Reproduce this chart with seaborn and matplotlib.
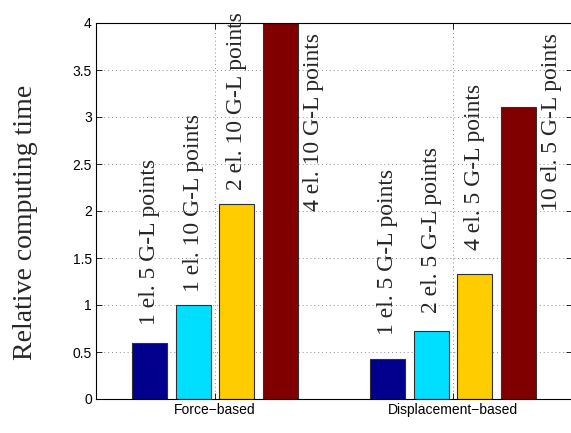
import matplotlib
matplotlib.use("Agg")
import matplotlib.pyplot as plt
import pandas as pd
import seaborn as sns

# Relative computing time of force-based vs displacement-based formulations
groups = ["Force\u2212based", "Displacement\u2212based"]
force_times = [0.60, 1.00, 2.07, 4.00]
disp_times = [0.43, 0.72, 1.33, 3.11]
force_labels = ["1 el. 5 G-L points", "1 el. 10 G-L points",
                "2 el. 10 G-L points", "4 el. 10 G-L points"]
disp_labels = ["1 el. 5 G-L points", "2 el. 5 G-L points",
               "4 el. 5 G-L points", "10 el. 5 G-L points"]
slots = ["s1", "s2", "s3", "s4"]
bar_colors = ["#00008C", "#00DFFF", "#FFCC00", "#800000"]
y_ticks = [0, 0.5, 1, 1.5, 2, 2.5, 3, 3.5, 4]
y_tick_labels = ["0", "0.5", "1", "1.5", "2", "2.5", "3", "3.5", "4"]

sns.set_theme(style="white")
plt.rcParams["font.family"] = ["Liberation Sans", "DejaVu Sans"]

df = pd.DataFrame({
    "formulation": [groups[0]] * 4 + [groups[1]] * 4,
    "slot": slots * 2,
    "time": force_times + disp_times,
})
labels_by_group = [force_labels, disp_labels]
# extra lift of the text above each of the first three bars
label_lift = [[0.19, 0.14, 0.15], [0.25, 0.20, 0.26]]

fig = plt.figure(figsize=(5.71, 4.33), dpi=100)
ax = fig.add_axes([96 / 571, 34 / 433, 476 / 571, 376 / 433])

sns.barplot(data=df, x="formulation", y="time", hue="slot",
            order=groups, hue_order=slots, palette=bar_colors,
            saturation=1, width=0.733, gap=0.2, errorbar=None,
            edgecolor="#303030", linewidth=0.8, legend=False, ax=ax)

serif = ["Liberation Serif", "DejaVu Serif"]
for i, cont in enumerate(ax.containers):
    for j, bar in enumerate(cont.patches):
        xc = bar.get_x() + bar.get_width() / 2
        h = bar.get_height()
        text = labels_by_group[j][i]
        if i < 3:
            ax.text(xc, h + label_lift[j][i], text, rotation=90,
                    ha="center", va="bottom", fontsize=17, family=serif)
        else:
            ax.text(xc + 0.14, 2.0, text, rotation=90,
                    ha="center", va="bottom", fontsize=17, family=serif)

ax.set_xlim(-0.5, 1.5)
ax.set_ylim(0, 4)
ax.set_xticks([0, 1])
ax.set_xticklabels(groups)
ax.set_yticks(y_ticks)
ax.set_yticklabels(y_tick_labels)
ax.set_xlabel("")
ax.set_ylabel("")

ax.tick_params(direction="in", length=4, width=0.6, top=True, right=True,
               bottom=True, left=True, labelsize=10, pad=3, colors="black")
for s in ax.spines.values():
    s.set_visible(True)
    s.set_color("black")
    s.set_linewidth(0.8)

ax.grid(True, color="0.55", linestyle=(0, (1, 3)), linewidth=0.7)
ax.set_axisbelow(True)

fig.text(26 / 571, 1 - 222 / 433, "Relative computing time", rotation=90,
         ha="center", va="center", fontsize=20, family=serif)

fig.savefig("out.png", dpi=100)
